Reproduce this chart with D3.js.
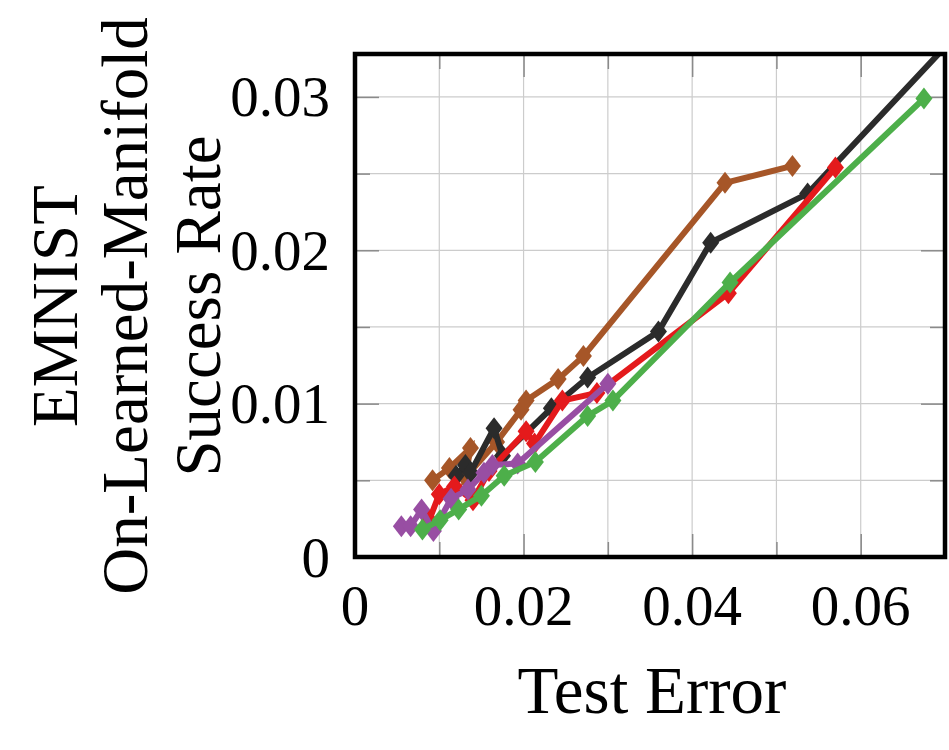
<!DOCTYPE html>
<html>
<head>
<meta charset="utf-8">
<script src="https://cdn.jsdelivr.net/npm/d3@7"></script>
<style>
  html, body { margin: 0; padding: 0; background: #fff; }
  svg { display: block; }
  text { font-family: "Liberation Serif", "Times New Roman", serif; fill: #000; }
</style>
</head>
<body>
<svg id="chart" width="949" height="750"></svg>
<script>
// ---- data ----
const xTicks = [0, 0.02, 0.04, 0.06];
const xTickLabels = ["0", "0.02", "0.04", "0.06"];
const xGrid = [0.01, 0.02, 0.03, 0.04, 0.05, 0.06];
const yTicks = [0, 0.01, 0.02, 0.03];
const yTickLabels = ["0", "0.01", "0.02", "0.03"];
const yGrid = [0.005, 0.01, 0.015, 0.02, 0.025, 0.03];

const brownX = [0.0092, 0.0112, 0.0137, 0.0131, 0.0168, 0.0197, 0.0203, 0.0241, 0.0271, 0.0439, 0.0519];
const brownY = [0.0050, 0.0058, 0.0071, 0.0052, 0.0075, 0.0096, 0.0102, 0.0116, 0.0131, 0.0244, 0.0255];
const blackX = [0.0120, 0.0131, 0.0137, 0.0165, 0.0175, 0.0233, 0.0276, 0.0360, 0.0422, 0.0537, 0.0740];
const blackY = [0.0053, 0.0060, 0.0055, 0.0084, 0.0066, 0.0097, 0.0117, 0.0147, 0.0205, 0.0237, 0.0356];
const redX = [0.0088, 0.0100, 0.0118, 0.0140, 0.0159, 0.0203, 0.0213, 0.0246, 0.0287, 0.0443, 0.0570];
const redY = [0.0024, 0.0041, 0.0046, 0.0037, 0.0056, 0.0082, 0.0074, 0.0102, 0.0107, 0.0172, 0.0254];
const purpleX = [0.0055, 0.0066, 0.0079, 0.0093, 0.0114, 0.0134, 0.0153, 0.0163, 0.0193, 0.0300];
const purpleY = [0.0020, 0.0020, 0.0031, 0.0017, 0.0038, 0.0044, 0.0055, 0.0060, 0.0061, 0.0113];
const greenX = [0.0080, 0.0101, 0.0123, 0.0150, 0.0177, 0.0214, 0.0276, 0.0306, 0.0445, 0.0675];
const greenY = [0.0018, 0.0024, 0.0031, 0.0040, 0.0053, 0.0062, 0.0092, 0.0102, 0.0179, 0.0299];

const seriesNames = ["brown", "black", "red", "purple", "green"];
const seriesColors = ["#a65628", "#2b2b2b", "#e41a1c", "#984ea3", "#4daf4a"];
const seriesXs = [brownX, blackX, redX, purpleX, greenX];
const seriesYs = [brownY, blackY, redY, purpleY, greenY];

const xLabel = "Test Error";
const yLabelLines = ["EMNIST", "On-Learned-Manifold", "Success Rate"];

// ---- layout ----
const L = 355, R = 945, T = 54, B = 557;
const svg = d3.select("#chart");
const x = d3.scaleLinear().domain([0, 0.07]).range([L, R]);
const y = d3.scaleLinear().domain([0, 0.0328]).range([B, T]);

svg.append("defs").append("clipPath").attr("id", "clip")
  .append("rect").attr("x", L).attr("y", T).attr("width", R - L).attr("height", B - T);

// grid
const grid = svg.append("g");
grid.selectAll("line.vx").data(xGrid).enter().append("line")
  .attr("x1", d => x(d)).attr("x2", d => x(d)).attr("y1", T).attr("y2", B)
  .attr("stroke", "#cccccc").attr("stroke-width", 1.2);
grid.selectAll("line.hy").data(yGrid).enter().append("line")
  .attr("x1", L).attr("x2", R).attr("y1", d => y(d)).attr("y2", d => y(d))
  .attr("stroke", "#cccccc").attr("stroke-width", 1.2);

// tick marks (inside, on all four sides) via d3 axes
const isMajorX = d => Math.abs(Math.round(d * 100) - d * 100) < 1e-9 && Math.round(d * 100) % 2 === 0;
const isMajorY = d => Math.abs(Math.round(d * 100) - d * 100) < 1e-9;
function styleTicks(g) {
  g.select(".domain").remove();
  g.selectAll("text").remove();
  g.selectAll(".tick line").attr("stroke", "#8a8a8a").attr("stroke-width", 1.5);
}
svg.append("g").attr("transform", `translate(0,${B})`)
  .call(d3.axisBottom(x).tickValues(xGrid).tickSizeInner(0).tickSizeOuter(0))
  .call(g => { styleTicks(g); g.selectAll(".tick line").attr("y2", d => isMajorX(d) ? -23 : -15); });
svg.append("g").attr("transform", `translate(0,${T})`)
  .call(d3.axisTop(x).tickValues(xGrid).tickSizeInner(0).tickSizeOuter(0))
  .call(g => { styleTicks(g); g.selectAll(".tick line").attr("y2", d => isMajorX(d) ? 23 : 15); });
svg.append("g").attr("transform", `translate(${L},0)`)
  .call(d3.axisLeft(y).tickValues(yGrid).tickSizeInner(0).tickSizeOuter(0))
  .call(g => { styleTicks(g); g.selectAll(".tick line").attr("x2", d => isMajorY(d) ? 24 : 15); });
svg.append("g").attr("transform", `translate(${R},0)`)
  .call(d3.axisRight(y).tickValues(yGrid).tickSizeInner(0).tickSizeOuter(0))
  .call(g => { styleTicks(g); g.selectAll(".tick line").attr("x2", d => isMajorY(d) ? -24 : -15); });

// series
const line = d3.line().x(d => x(d[0])).y(d => y(d[1]));
const diamond = (cx, cy) => `M${cx},${cy - 11}L${cx + 8.5},${cy}L${cx},${cy + 11}L${cx - 8.5},${cy}Z`;
const plot = svg.append("g").attr("clip-path", "url(#clip)");
seriesNames.forEach((name, i) => {
  const pts = seriesXs[i].map((v, j) => [v, seriesYs[i][j]]);
  const g = plot.append("g").attr("class", "series-" + name);
  g.append("path").datum(pts).attr("d", line)
    .attr("fill", "none").attr("stroke", seriesColors[i])
    .attr("stroke-width", 6).attr("stroke-linejoin", "miter").attr("stroke-miterlimit", 10);
  g.selectAll("path.mk").data(pts).enter().append("path").attr("class", "mk")
    .attr("d", d => diamond(x(d[0]), y(d[1])))
    .attr("fill", seriesColors[i]);
});

// frame
svg.append("rect").attr("x", L).attr("y", T).attr("width", R - L).attr("height", B - T)
  .attr("fill", "none").attr("stroke", "#000").attr("stroke-width", 4.5);

// tick labels
svg.append("g").selectAll("text").data(xTicks).enter().append("text")
  .attr("x", d => x(d)).attr("y", 605)
  .attr("text-anchor", "middle").attr("dominant-baseline", "central")
  .attr("font-size", 57)
  .text((d, i) => xTickLabels[i]);
svg.append("g").selectAll("text").data(yTicks).enter().append("text")
  .attr("x", 330).attr("y", d => y(d))
  .attr("text-anchor", "end").attr("dominant-baseline", "central")
  .attr("font-size", 57)
  .text((d, i) => yTickLabels[i]);

// axis labels
svg.append("text").attr("x", (L + R) / 2 + 2).attr("y", 690)
  .attr("text-anchor", "middle").attr("dominant-baseline", "central")
  .attr("font-size", 67).text(xLabel);
const ylx = [55, 125, 198];
yLabelLines.forEach((t, i) => {
  svg.append("text")
    .attr("transform", `translate(${ylx[i]},306) rotate(-90)`)
    .attr("text-anchor", "middle").attr("dominant-baseline", "central")
    .attr("font-size", 65).text(t);
});
</script>
</body>
</html>
